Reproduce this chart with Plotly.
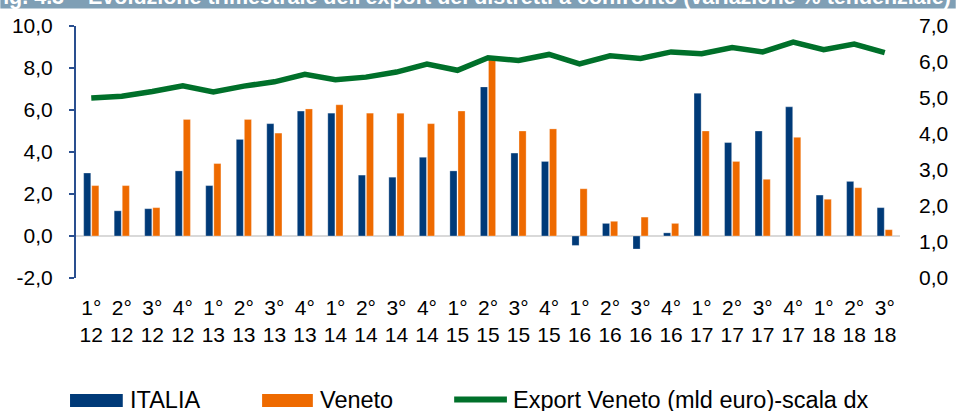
import plotly.graph_objects as go

# ---------------- data ----------------
quarters = ["1°", "2°", "3°", "4°", "1°", "2°", "3°", "4°", "1°", "2°", "3°", "4°",
            "1°", "2°", "3°", "4°", "1°", "2°", "3°", "4°", "1°", "2°", "3°", "4°",
            "1°", "2°", "3°"]
years = ["12", "12", "12", "12", "13", "13", "13", "13", "14", "14", "14", "14",
         "15", "15", "15", "15", "16", "16", "16", "16", "17", "17", "17", "17",
         "18", "18", "18"]
italia = [3.0, 1.2, 1.3, 3.1, 2.4, 4.6, 5.35, 5.95, 5.85, 2.9, 2.8, 3.75,
          3.1, 7.1, 3.95, 3.55, -0.45, 0.6, -0.62, 0.15, 6.8, 4.45, 5.0, 6.15,
          1.95, 2.6, 1.35]
veneto = [2.4, 2.4, 1.35, 5.55, 3.45, 5.55, 4.9, 6.05, 6.25, 5.85, 5.85, 5.35,
          5.95, 8.45, 5.0, 5.1, 2.25, 0.7, 0.9, 0.6, 5.0, 3.55, 2.7, 4.7,
          1.75, 2.3, 0.3]
export_veneto = [5.0, 5.05, 5.18, 5.34, 5.17, 5.33, 5.45, 5.66, 5.51, 5.58, 5.72, 5.94,
                 5.77, 6.12, 6.04, 6.21, 5.95, 6.17, 6.10, 6.28, 6.23, 6.40, 6.28, 6.55,
                 6.34, 6.50, 6.26]
left_ticks = [-2, 0, 2, 4, 6, 8, 10]
left_ticktext = ["-2,0", "0,0", "2,0", "4,0", "6,0", "8,0", "10,0"]
right_ticks = [0, 1, 2, 3, 4, 5, 6, 7]
right_ticktext = ["0,0", "1,0", "2,0", "3,0", "4,0", "5,0", "6,0", "7,0"]
series_names = ["ITALIA", "Veneto", "Export Veneto (mld euro)-scala dx"]
title_text = "Fig. 4.3 – Evoluzione trimestrale dell'export dei distretti a confronto (variazione % tendenziale)"

categories = [f"{q}<br>{y}" for q, y in zip(quarters, years)]

# ---------------- style ----------------
C_IT = "#003A78"
C_VE = "#EE6A00"
C_EX = "#00702A"
FONT = "Arial, Liberation Sans, sans-serif"

W, H = 960, 411
L, R, T, B = 76, 56, 26, 133
PW, PH = W - L - R, H - T - B


def px(x):
    return (x - L) / PW


def py(y):
    return (H - B - y) / PH


fig = go.Figure()
fig.add_trace(go.Bar(x=categories, y=italia, name=series_names[0], marker_color=C_IT,
                     marker_line=dict(color="rgba(255,255,255,0.5)", width=0.6),
                     showlegend=False))
fig.add_trace(go.Bar(x=categories, y=veneto, name=series_names[1], marker_color=C_VE,
                     marker_line=dict(color="rgba(255,255,255,0.5)", width=0.6),
                     showlegend=False))
fig.add_trace(go.Scatter(x=categories, y=export_veneto, name=series_names[2], yaxis="y2",
                         mode="lines", line=dict(color=C_EX, width=5.5),
                         showlegend=False))

fig.update_layout(
    width=W, height=H,
    margin=dict(l=L, r=R, t=T, b=B, pad=0),
    paper_bgcolor="white", plot_bgcolor="white",
    barmode="group", bargap=0.47, bargroupgap=0.12,
    font=dict(family=FONT, size=21, color="black"),
    xaxis=dict(type="category", showgrid=False, showline=False, ticks="",
               zeroline=False, tickfont=dict(size=21), ticklabelstandoff=15,
               tickangle=0),
    yaxis=dict(range=[-2, 10], tickvals=left_ticks, ticktext=left_ticktext,
               showgrid=False, showline=True, linecolor="#2A4F8F", linewidth=2,
               ticks="outside", ticklen=5, tickwidth=2, tickcolor="#2A4F8F",
               zeroline=True, zerolinecolor="#D9D9D9", zerolinewidth=2,
               ticklabelstandoff=12, tickfont=dict(size=21)),
    yaxis2=dict(range=[0, 7], tickvals=right_ticks, ticktext=right_ticktext,
                overlaying="y", side="right", showgrid=False, showline=False,
                zeroline=False, ticks="", ticklabelstandoff=18,
                tickfont=dict(size=21)),
)

shapes = []
annotations = []

# top title band (cut off in reference)
shapes.append(dict(type="rect", xref="paper", yref="paper", x0=px(0), x1=px(W),
                   y0=py(0), y1=py(8.5), fillcolor="#7F9FB5", line=dict(width=0),
                   layer="above"))
annotations.append(dict(text=f"<b>{title_text}</b>", xref="paper", yref="paper",
                        x=px(957), y=py(11), xanchor="right", yanchor="bottom",
                        showarrow=False, font=dict(size=21.5, color="white", family=FONT)))

# manual legend
legend_y = 400
shapes.append(dict(type="rect", xref="paper", yref="paper", x0=px(70), x1=px(123),
                   y0=py(394), y1=py(407), fillcolor=C_IT, line=dict(width=0)))
shapes.append(dict(type="rect", xref="paper", yref="paper", x0=px(263), x1=px(314),
                   y0=py(394), y1=py(407), fillcolor=C_VE, line=dict(width=0)))
shapes.append(dict(type="line", xref="paper", yref="paper", x0=px(456), x1=px(509),
                   y0=py(399.5), y1=py(399.5), line=dict(color=C_EX, width=6)))
for xpos, name in zip([128, 319, 513], series_names):
    annotations.append(dict(text=name, xref="paper", yref="paper", x=px(xpos),
                            y=py(legend_y), xanchor="left", yanchor="middle",
                            showarrow=False, font=dict(size=23.5, color="black", family=FONT)))

fig.update_layout(shapes=shapes, annotations=annotations)
fig.write_html("out.html")
